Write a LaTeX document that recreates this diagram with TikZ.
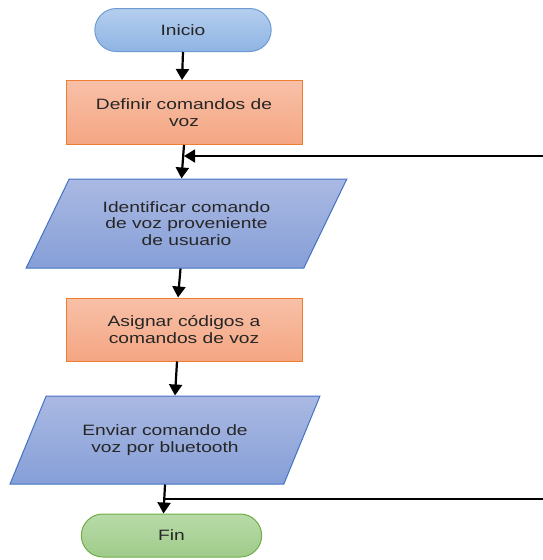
\documentclass[tikz,border=0pt]{standalone}
\usepackage{fontspec}
\setmainfont{Liberation Sans}[FakeStretch=1.28]
\usetikzlibrary{shapes.geometric,shapes.misc,arrows.meta}
\definecolor{azulA}{RGB}{180,206,238}
\definecolor{azulB}{RGB}{143,180,227}
\definecolor{azulborde}{RGB}{111,155,212}
\definecolor{naranjaA}{RGB}{248,192,168}
\definecolor{naranjaB}{RGB}{244,166,130}
\definecolor{naranjaborde}{RGB}{237,125,49}
\definecolor{lilaA}{RGB}{170,185,226}
\definecolor{lilaB}{RGB}{134,159,216}
\definecolor{lilaborde}{RGB}{68,114,196}
\definecolor{verdeA}{RGB}{184,219,168}
\definecolor{verdeB}{RGB}{160,203,139}
\definecolor{verdeborde}{RGB}{112,173,71}
\begin{document}
\begin{tikzpicture}[x=1pt,y=-1pt,
    font=\fontsize{15}{16.7}\selectfont, text=black!85,
    terminal/.style={rounded rectangle, line width=1pt, minimum height=43pt},
    proceso/.style={rectangle, draw=naranjaborde, line width=1pt, top color=naranjaA,
      bottom color=naranjaB, minimum width=236pt, minimum height=64pt, align=center},
    datos/.style={trapezium, trapezium stretches=true, draw=lilaborde, line width=1pt,
      top color=lilaA, bottom color=lilaB, align=center},
    flecha/.style={line width=2.2pt, -{Triangle[width=13pt,length=11pt]}}]
\useasboundingbox (0,0) rectangle (543,560);
% Draw the blocks
\node[terminal, draw=azulborde, top color=azulA, bottom color=azulB, minimum width=183pt]
  (inicio) at (183,30) {Inicio};
\node[proceso] (definir) at (184,112.5) {Definir comandos de\\voz};
\node[datos, minimum width=321pt, minimum height=89pt, trapezium left angle=58,
  trapezium right angle=122] (identificar) at (186.5,223.5)
  {Identificar comando\\de voz proveniente\\de usuario};
\node[proceso, minimum height=63pt] (asignar) at (184,329.5) {Asignar códigos a\\comandos de voz};
\node[datos, minimum width=310pt, minimum height=88pt, trapezium left angle=55,
  trapezium right angle=125] (enviar) at (165,440) {Enviar comando de\\voz por bluetooth};
\node[terminal, draw=verdeborde, top color=verdeA, bottom color=verdeB, minimum width=187pt]
  (fin) at (171.5,535.5) {Fin};
% Draw the arrows
\draw[flecha] (inicio.south) -- ([xshift=-2pt]definir.north);
\draw[flecha] (definir.south) -- ([xshift=-5pt]identificar.north);
\draw[flecha] ([xshift=-6pt]identificar.south) -- ([xshift=-6pt]asignar.north);
\draw[flecha] ([xshift=-7pt]asignar.south) -- ([xshift=10pt]enviar.north);
\draw[flecha] (enviar.south) -- ([xshift=-8pt]fin.north);
% Draw the loop back
\coordinate (retornoA) at (543,156);
\coordinate (retornoB) at (543,499);
\draw[line width=1.6pt] (retornoB -| enviar.south) -- (retornoB);
\draw[flecha, line width=1.6pt] (retornoA) -- (retornoA -| definir.south);
\end{tikzpicture}
\end{document}
